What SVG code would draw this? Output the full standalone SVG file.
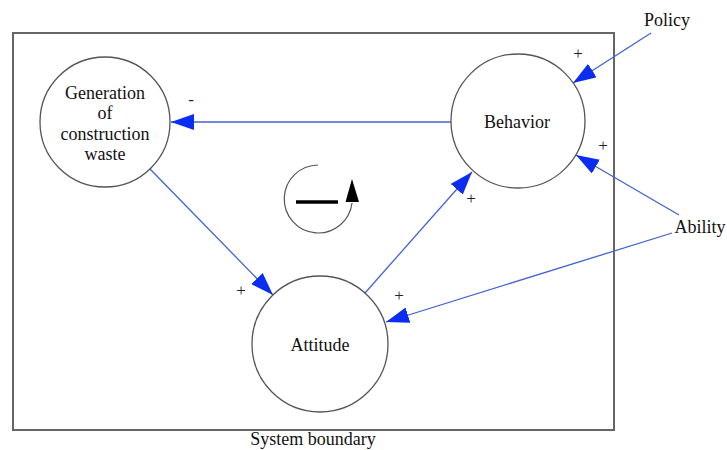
<svg xmlns="http://www.w3.org/2000/svg" width="727" height="450" viewBox="0 0 727 450">
<style>
.node{fill:#fff;stroke:#555;stroke-width:1.3}
.t{font-family:"Liberation Serif","Times New Roman",serif;font-size:18px;fill:#111;text-anchor:middle}
.s{font-family:"Liberation Serif","Times New Roman",serif;font-size:17px;fill:#222;text-anchor:middle}
.c{fill:none;stroke:#4363cf;stroke-width:1.3;marker-end:url(#ah)}
</style>
<defs>
<marker id="ah" markerUnits="userSpaceOnUse" viewBox="0 0 23 16" refX="23" refY="8" markerWidth="23" markerHeight="16" orient="auto">
<path d="M0,0 L23,8 L0,16 Z" fill="#0b2df2"/>
</marker>
</defs>
<rect x="0" y="0" width="727" height="450" fill="#fff"/>
<g id="boundary">
<rect x="13" y="33" width="601" height="397" fill="none" stroke="#666" stroke-width="2"/>
<text class="t" x="313" y="445">System boundary</text>
</g>
<g id="connectors">
<line class="c" x1="451" y1="122" x2="171" y2="122"/>
<line class="c" x1="150" y1="169" x2="273" y2="295"/>
<line class="c" x1="365" y1="293" x2="472" y2="172"/>
<line class="c" x1="651" y1="33" x2="573" y2="83"/>
<line class="c" x1="679" y1="215" x2="576" y2="155"/>
<line class="c" x1="672" y1="233" x2="386" y2="322"/>
<text class="s" x="191" y="105">-</text>
<text class="s" x="578" y="59">+</text>
<text class="s" x="603" y="151">+</text>
<text class="s" x="471" y="204">+</text>
<text class="s" x="241" y="296">+</text>
<text class="s" x="399" y="301">+</text>
</g>
<g id="generation">
<circle class="node" cx="105" cy="122" r="65"/>
<text class="t" x="105" y="99">Generation</text>
<text class="t" x="105" y="119">of</text>
<text class="t" x="105" y="140">construction</text>
<text class="t" x="105" y="160">waste</text>
</g>
<g id="behavior">
<circle class="node" cx="518" cy="121" r="67"/>
<text class="t" x="517" y="128">Behavior</text>
</g>
<g id="attitude">
<circle class="node" cx="320" cy="344" r="68"/>
<text class="t" x="320" y="351">Attitude</text>
</g>
<g id="policy">
<text class="t" x="667" y="26">Policy</text>
</g>
<g id="ability">
<text class="t" x="700" y="233">Ability</text>
</g>
<g id="loop">
<path d="M318,165 A34,34 0 1,0 352,203" fill="none" stroke="#555" stroke-width="1.2"/>
<polygon points="352,179 345.5,202 359,202" fill="#000"/>
<line x1="296" y1="202" x2="338" y2="202" stroke="#000" stroke-width="3.5"/>
</g>
</svg>
